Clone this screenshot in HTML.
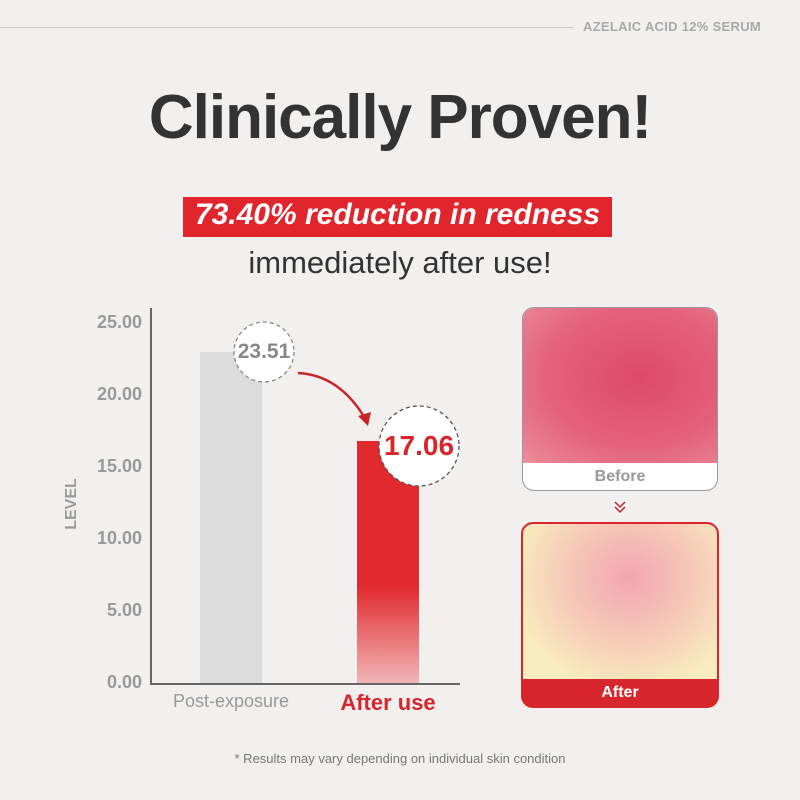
<!DOCTYPE html>
<html><head><meta charset="utf-8"><style>
body{margin:0;width:800px;height:800px;background:#f1f0ee;font-family:"Liberation Sans",sans-serif;position:relative;overflow:hidden}
.a{position:absolute}
</style></head><body>
<div class="a" style="left:0;top:27px;width:574px;height:1px;background:#c9c9c9"></div>
<div class="a" style="left:583px;top:19px;font-size:13px;font-weight:bold;color:#a8a8a8;letter-spacing:0.3px">AZELAIC ACID 12% SERUM</div>
<div class="a" style="left:0;width:800px;top:82px;text-align:center;font-size:62px;font-weight:bold;color:#333;letter-spacing:-1px">Clinically Proven!</div>
<div class="a" style="left:183px;top:197px;width:429px;height:40px;background:#e0262c"></div>
<div class="a" style="left:183px;top:198px;width:429px;text-align:center;font-size:30px;font-weight:bold;font-style:italic;color:#fff">73.40% reduction in redness</div>
<div class="a" style="left:0;width:800px;top:245px;text-align:center;font-size:31px;color:#333">immediately after use!</div>
<div class="a" style="left:150px;top:308px;width:2px;height:376px;background:#666"></div>
<div class="a" style="left:150px;top:683px;width:310px;height:2px;background:#666"></div>
<div class="a" style="left:70px;top:311px;width:72px;text-align:right;font-size:18px;font-weight:bold;color:#999;line-height:22px">25.00</div>
<div class="a" style="left:70px;top:383px;width:72px;text-align:right;font-size:18px;font-weight:bold;color:#999;line-height:22px">20.00</div>
<div class="a" style="left:70px;top:455px;width:72px;text-align:right;font-size:18px;font-weight:bold;color:#999;line-height:22px">15.00</div>
<div class="a" style="left:70px;top:527px;width:72px;text-align:right;font-size:18px;font-weight:bold;color:#999;line-height:22px">10.00</div>
<div class="a" style="left:70px;top:599px;width:72px;text-align:right;font-size:18px;font-weight:bold;color:#999;line-height:22px">5.00</div>
<div class="a" style="left:70px;top:671px;width:72px;text-align:right;font-size:18px;font-weight:bold;color:#999;line-height:22px">0.00</div>
<div class="a" style="left:42px;top:495px;width:60px;text-align:center;font-size:16px;font-weight:bold;color:#999;transform:rotate(-90deg)">LEVEL</div>
<div class="a" style="left:200px;top:352px;width:62px;height:331px;background:#dcdcdc"></div>
<div class="a" style="left:357px;top:441px;width:62px;height:242px;background:linear-gradient(#e12a2e 0%,#e12a2e 60%,#f2b5b6 100%)"></div>
<svg class="a" style="left:0;top:0" width="800" height="800">
<circle cx="264" cy="352" r="30" fill="#fff" stroke="#888" stroke-dasharray="4 3" stroke-width="1.3"/>
<circle cx="419" cy="446" r="40" fill="#fff" stroke="#555" stroke-dasharray="4 3" stroke-width="1.3"/>
<path d="M298 373 Q340 375 366 420" fill="none" stroke="#c8262b" stroke-width="2.5"/>
<path d="M358 416 L368 426 L371 412 Z" fill="#c8262b"/>
<path d="M615 502 L620 507 L625 502 M615 507 L620 512 L625 507" fill="none" stroke="#c8262b" stroke-width="1.5"/>
</svg>
<div class="a" style="left:230px;top:340px;width:68px;text-align:center;font-size:21px;font-weight:bold;color:#888">23.51</div>
<div class="a" style="left:375px;top:430px;width:88px;text-align:center;font-size:28px;font-weight:bold;color:#d7262c">17.06</div>
<div class="a" style="left:160px;top:691px;width:142px;text-align:center;font-size:18px;color:#999">Post-exposure</div>
<div class="a" style="left:318px;top:690px;width:140px;text-align:center;font-size:22px;font-weight:bold;color:#d7262c">After use</div>
<div class="a" style="left:522px;top:307px;width:194px;height:182px;border:1.5px solid #999;border-radius:12px;overflow:hidden;background:#fff">
<div style="height:155px;background:radial-gradient(ellipse 120% 110% at 60% 45%,#dd4a68 0%,#e3617c 40%,#ea8494 65%,#f3c6aa 85%,#f6e8b8 100%)"></div>
<div style="text-align:center;font-size:16px;font-weight:bold;color:#999;line-height:27px">Before</div></div>
<div class="a" style="left:521px;top:522px;width:194px;height:182px;border:2px solid #d7262c;border-radius:12px;overflow:hidden;background:#d7262c">
<div style="height:155px;background:radial-gradient(ellipse at 55% 35%,#f2a6b0 0%,#f6cbb8 45%,#f8eebd 80%)"></div>
<div style="text-align:center;font-size:16px;font-weight:bold;color:#fff;line-height:27px">After</div></div>
<div class="a" style="left:0;width:800px;top:751px;text-align:center;font-size:13px;color:#777">* Results may vary depending on individual skin condition</div>
</body></html>
